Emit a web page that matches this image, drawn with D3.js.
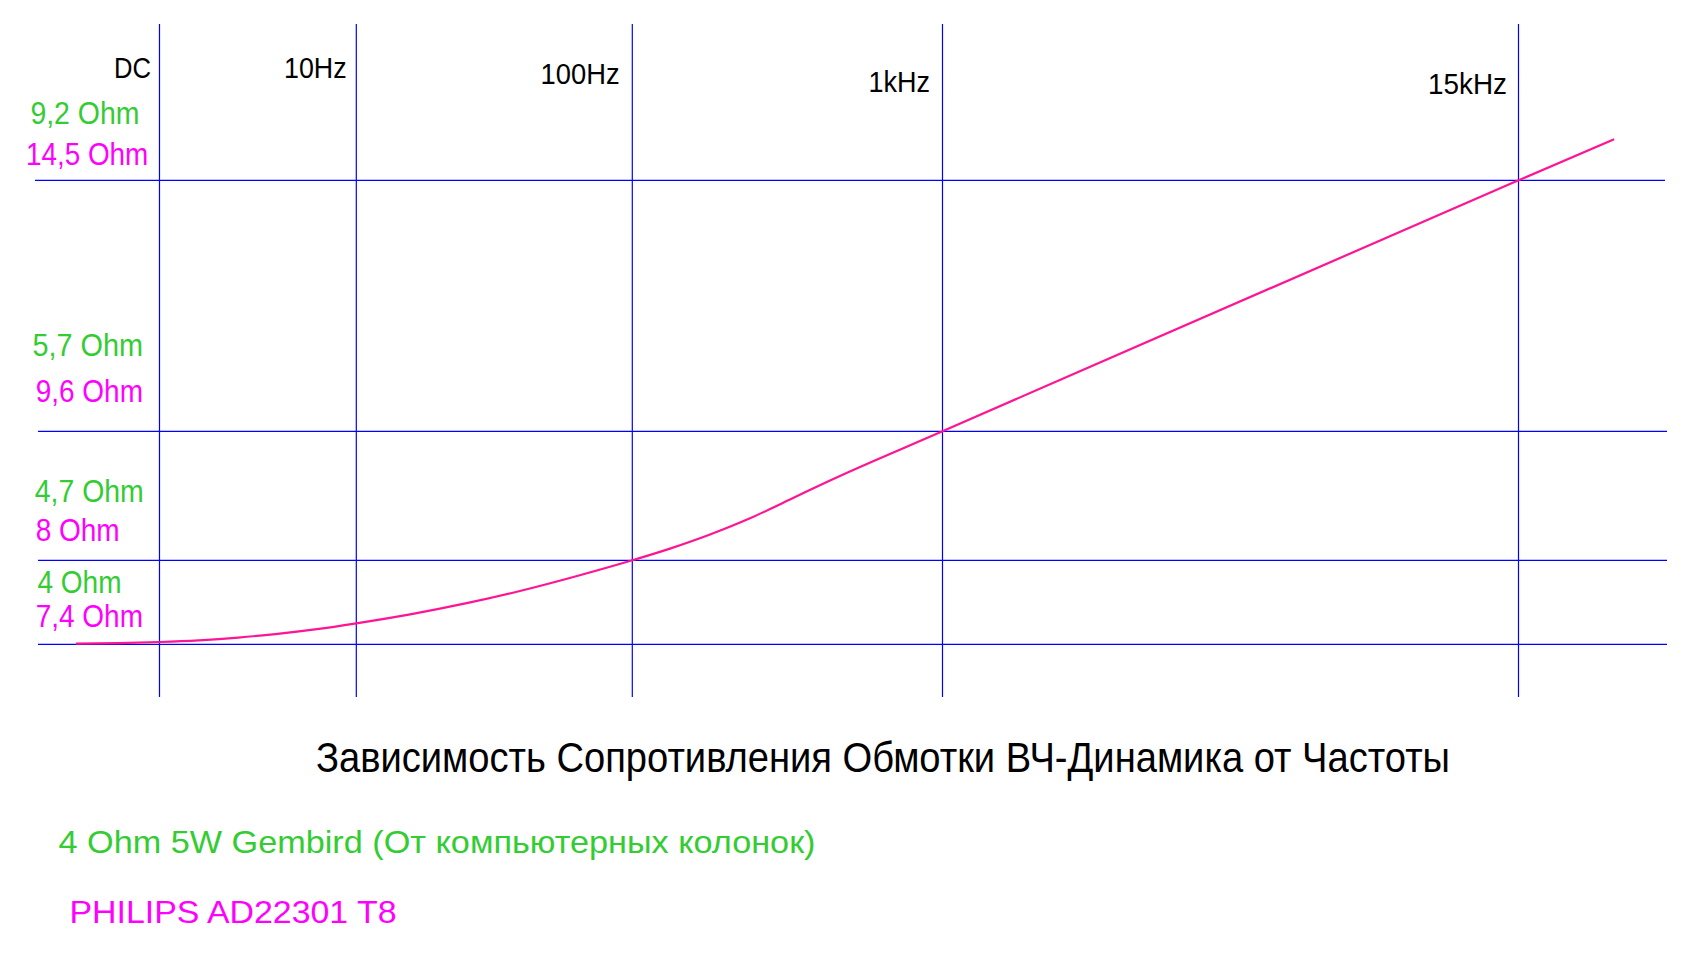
<!DOCTYPE html>
<html>
<head>
<meta charset="utf-8">
<script src="https://cdn.jsdelivr.net/npm/d3@7"></script>
<style>
  html, body { margin: 0; padding: 0; background: #ffffff; }
  svg { display: block; }
  text { font-family: "Liberation Sans", Arial, sans-serif; }
</style>
</head>
<body>
<svg id="chart" width="1690" height="954"></svg>
<script>
// ---------- DATA ----------
const freqTicks = ["DC", "10Hz", "100Hz", "1kHz", "15kHz"];      // x tick labels (positions 0..4)
const greenOhmTicks = ["9,2 Ohm", "5,7 Ohm", "4,7 Ohm", "4 Ohm"]; // Gembird labels per gridline
const magentaOhmValues = [14.5, 9.6, 8, 7.4];                      // PHILIPS values per gridline
const magentaOhmTicks = ["14,5 Ohm", "9,6 Ohm", "8 Ohm", "7,4 Ohm"];
// PHILIPS AD22301 T8 curve: position on frequency axis (tick units) and resistance (Ohm)
const philipsPos = [-0.425, -0.205, 0, 0.2, 0.4, 0.6, 0.8, 1.0, 1.2, 1.4, 1.6, 1.8, 2.0,
                    2.1215, 2.2505, 2.3795, 2.5084, 2.634, 3.0, 4.0, 4.166];
const philipsOhm = [7.4043, 7.4086, 7.4164, 7.4286, 7.4479, 7.475, 7.5086, 7.55, 7.6157, 7.6936, 7.7843, 7.8879, 8.0,
                    8.145, 8.32, 8.521, 8.754, 8.984, 9.6, 14.5, 15.3];
const titleText = "Зависимость Сопротивления Обмотки ВЧ-Динамика от Частоты";
const legendGreen = "4 Ohm 5W Gembird (От компьютерных колонок)";
const legendMagenta = "PHILIPS AD22301 T8";

// ---------- LAYOUT / STYLE ----------
const W = 1690, H = 954;
const GRID = "#0000ff", GREEN = "#33cc33", MAGENTA = "#ff00ff", CURVE = "#ff1493";
const xRange = [159.5, 356.3, 632.3, 942.5, 1518.5];
const yRange = [180.3, 431.3, 560.3, 644.3];
const vTop = 24, vBottom = 697;
const hLeft = [35, 38, 38, 38], hRight = [1665, 1667, 1667, 1667];
const tickGap = [8.4, 9.7, 12.7, 12.5, 11.5];
const tickBase = [78, 78, 84, 92, 94];
const tickLen = [37, 62.6, 79, 61.5, 79];
const gLabelX = [30.4, 32.5, 34.8, 37.5], gLabelOff = [-56, -75, -58.6, -51], gLabelLen = [109, 110.5, 109, 84];
const mLabelX = [25.9, 35.7, 35.7, 35.7], mLabelOff = [-15.3, -29.6, -19.6, -17.6], mLabelLen = [122.4, 107.3, 84, 107.3];

const svg = d3.select("#chart");
svg.append("rect").attr("width", W).attr("height", H).attr("fill", "#fff");

const x = d3.scaleLinear().domain(d3.range(freqTicks.length)).range(xRange);
const y = d3.scaleLinear().domain(magentaOhmValues).range(yRange);

// vertical gridlines
svg.append("g").selectAll("line").data(freqTicks).join("line")
  .attr("x1", (d, i) => x(i)).attr("x2", (d, i) => x(i))
  .attr("y1", vTop).attr("y2", vBottom)
  .attr("stroke", GRID).attr("stroke-width", 1.2);

// horizontal gridlines
svg.append("g").selectAll("line").data(magentaOhmValues).join("line")
  .attr("x1", (d, i) => hLeft[i]).attr("x2", (d, i) => hRight[i])
  .attr("y1", d => y(d)).attr("y2", d => y(d))
  .attr("stroke", GRID).attr("stroke-width", 1.2);

// frequency tick labels
svg.append("g").selectAll("text").data(freqTicks).join("text")
  .attr("x", (d, i) => x(i) - tickGap[i]).attr("y", (d, i) => tickBase[i])
  .attr("text-anchor", "end").attr("font-size", 29).attr("fill", "#000")
  .attr("textLength", (d, i) => tickLen[i]).attr("lengthAdjust", "spacingAndGlyphs")
  .text(d => d);

// Ohm labels (green: Gembird, magenta: PHILIPS)
svg.append("g").selectAll("text").data(greenOhmTicks).join("text")
  .attr("x", (d, i) => gLabelX[i]).attr("y", (d, i) => y(magentaOhmValues[i]) + gLabelOff[i])
  .attr("font-size", 31).attr("fill", GREEN)
  .attr("textLength", (d, i) => gLabelLen[i]).attr("lengthAdjust", "spacingAndGlyphs")
  .text(d => d);
svg.append("g").selectAll("text").data(magentaOhmTicks).join("text")
  .attr("x", (d, i) => mLabelX[i]).attr("y", (d, i) => y(magentaOhmValues[i]) + mLabelOff[i])
  .attr("font-size", 31).attr("fill", MAGENTA)
  .attr("textLength", (d, i) => mLabelLen[i]).attr("lengthAdjust", "spacingAndGlyphs")
  .text(d => d);

// curve
const pts = philipsPos.map((p, i) => [p, philipsOhm[i]]);
svg.append("path").datum(pts)
  .attr("d", d3.line().x(d => x(d[0])).y(d => y(d[1])).curve(d3.curveMonotoneX))
  .attr("fill", "none").attr("stroke", CURVE).attr("stroke-width", 2.2);

// title
svg.append("text").attr("x", 316).attr("y", 772)
  .attr("font-size", 43).attr("fill", "#000")
  .attr("textLength", 1134).attr("lengthAdjust", "spacingAndGlyphs")
  .text(titleText);

// legend texts
svg.append("text").attr("x", 58.5).attr("y", 853)
  .attr("font-size", 32).attr("fill", GREEN)
  .attr("textLength", 757).attr("lengthAdjust", "spacingAndGlyphs")
  .text(legendGreen);
svg.append("text").attr("x", 69.5).attr("y", 922.5)
  .attr("font-size", 32).attr("fill", MAGENTA)
  .attr("textLength", 327).attr("lengthAdjust", "spacingAndGlyphs")
  .text(legendMagenta);
</script>
</body>
</html>
